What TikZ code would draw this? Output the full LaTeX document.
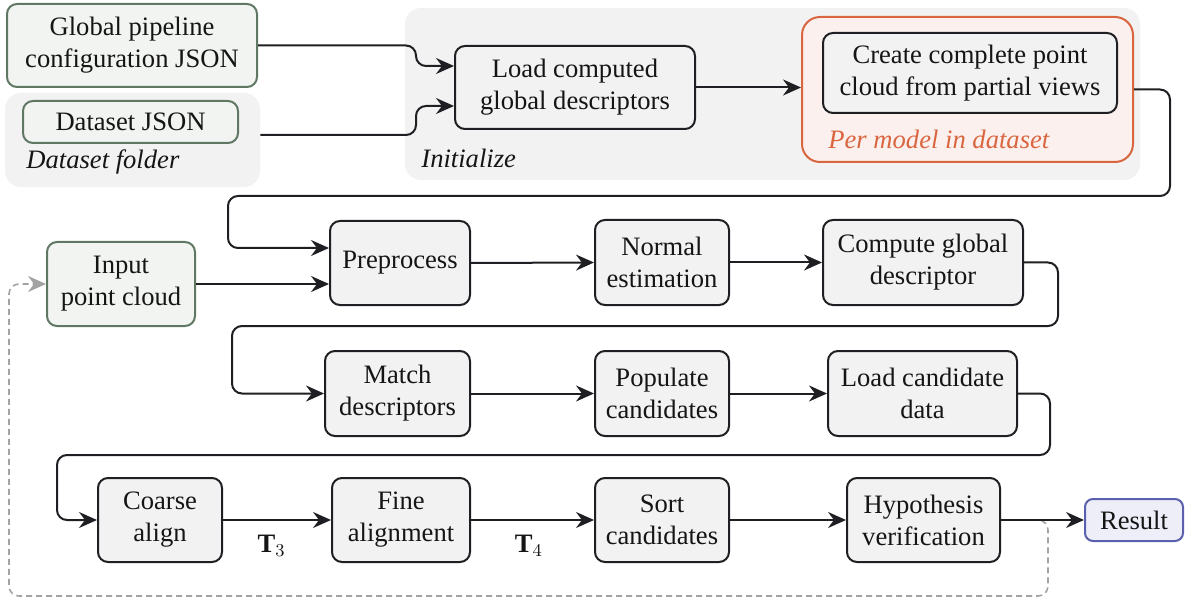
\documentclass[tikz,border=0pt]{standalone}
\usepackage{fontspec}
\setmainfont{Liberation Serif}
\usetikzlibrary{arrows.meta,calc}

\definecolor{boxfill}{HTML}{F2F2F2}
\definecolor{boxline}{HTML}{1F1F23}
\definecolor{greenfill}{HTML}{F1F4F0}
\definecolor{greenline}{HTML}{5F7763}
\definecolor{groupfill}{HTML}{F2F2F2}
\definecolor{orangeline}{HTML}{D9663F}
\definecolor{orangefill}{HTML}{FBF0ED}
\definecolor{resfill}{HTML}{EEEEF9}
\definecolor{resline}{HTML}{5A5FAE}
\definecolor{txt}{HTML}{151515}
\definecolor{loopgray}{HTML}{A3A3A3}

\tikzset{
  base/.style={align=center, inner sep=0pt, text=txt,
    font=\fontsize{13.3}{16}\selectfont},
  stepbox/.style={base, draw=boxline, fill=boxfill, line width=1pt, rounded corners=5pt},
  greenbox/.style={base, draw=greenline, fill=greenfill, line width=1pt, rounded corners=5pt},
  groupbox/.style={base, fill=groupfill, rounded corners=8pt},
  orangebox/.style={base, draw=orangeline, fill=orangefill, line width=1pt, rounded corners=9pt},
  resbox/.style={base, draw=resline, fill=resfill, line width=1pt, rounded corners=4pt},
  grouplabel/.style={base, anchor=west, font=\fontsize{13.3}{16}\selectfont\itshape},
  wh/.style 2 args={minimum width=#1*0.5pt, minimum height=#2*0.5pt},
  flow/.style={line width=1pt, draw=boxline, rounded corners=5pt,
    -{Stealth[length=9pt,width=8pt,inset=3pt]}},
  loop/.style={line width=0.8pt, draw=loopgray, dash pattern=on 3pt off 2pt,
    rounded corners=5pt, -{Stealth[length=9pt,width=8pt,inset=3pt,fill=loopgray]}},
  tlabel/.style={base},
}

\begin{document}
\begin{tikzpicture}[x=0.5pt,y=-0.5pt]
\useasboundingbox (0,0) rectangle (1185,599);

% --- initialization stage ---
\node[groupbox, wh={255}{94}] (dsgroup) at (132.5,140) {};
\node[grouplabel] (dslabel) at (26,162) {Dataset folder};
\node[greenbox, wh={250}{83}] (gpc) at (132,45.5) {Global pipeline\\configuration JSON};
\node[greenbox, wh={215}{42}] (dsjson) at (130.5,122) {Dataset JSON};

\node[groupbox, wh={735}{172}] (init) at (772.5,94) {};
\node[grouplabel] (initlabel) at (421,158) {Initialize};
\node[stepbox, wh={240}{83}] (load) at (575,87.5) {Load computed\\global descriptors};

\node[orangebox, wh={331}{145}] (permodel) at (967.5,89.5) {};
\node[grouplabel, text=orangeline] (pmlabel) at (828,139) {Per model in dataset};
\node[stepbox, wh={294}{80}] (create) at (970,73) {Create complete point\\cloud from partial views};

% --- descriptor stage ---
\node[greenbox, wh={148}{84}] (input) at (121,284) {Input\\point cloud};
\node[stepbox, wh={140}{84}] (prep) at (400,263) {Preprocess};
\node[stepbox, wh={134}{85}] (normal) at (662,262.5) {Normal\\estimation};
\node[stepbox, wh={200}{85}] (compute) at (923,262.5) {Compute global\\descriptor};

% --- candidate stage ---
\node[stepbox, wh={145}{85}] (match) at (397.5,393.5) {Match\\descriptors};
\node[stepbox, wh={134}{85}] (populate) at (662,393.5) {Populate\\candidates};
\node[stepbox, wh={189}{85}] (loadcand) at (922.5,393.5) {Load candidate\\data};

% --- alignment stage ---
\node[stepbox, wh={124}{84}] (coarse) at (160,520) {Coarse\\align};
\node[stepbox, wh={138}{84}] (fine) at (401,520) {Fine\\alignment};
\node[stepbox, wh={134}{84}] (sort) at (662,520) {Sort\\candidates};
\node[stepbox, wh={153}{84}] (hyp) at (923.5,520) {Hypothesis\\verification};
\node[resbox, wh={98}{42}] (result) at (1134,520) {Result};

% feedback loop to the input (drawn first, so the solid arrow lies on top)
\draw[loop] (hyp.east) -- (1048,520) -- (1048,596) -- (9,596) -- (9,284) -- (input.west);

% --- connectors ---
\draw[flow] (gpc.east) -- (416,45.5) -- (416,66) -- ($(load.west)+(0,-21.5)$);
\draw[flow] ($(dsgroup.east)+(0,-5)$) -- (416,135) -- (416,106) -- ($(load.west)+(0,18.5)$);
\draw[flow] (load.east) -- (load.east -| permodel.west);
\draw[flow] (permodel.east) -- (1170,89.5) -- (1170,196) -- (228,196) -- (228,248)
  -- ($(prep.west)+(0,-15)$);
\draw[flow] (input.east) -- (input.east -| prep.west);
\draw[flow] (prep.east) -- (normal.west);
\draw[flow] (normal.east) -- (compute.west);
\draw[flow] (compute.east) -- (1058,262.5) -- (1058,326) -- (232,326) -- (232,393.5)
  -- (match.west);
\draw[flow] (match.east) -- (populate.west);
\draw[flow] (populate.east) -- (loadcand.west);
\draw[flow] (loadcand.east) -- (1050,393.5) -- (1050,455) -- (57,455) -- (57,520)
  -- (coarse.west);
\draw[flow] (coarse.east) -- node[tlabel, pos=0.45, below=7pt] (t3) {$\mathbf{T}_3$} (fine.west);
\draw[flow] (fine.east) -- node[tlabel, pos=0.47, below=7pt] (t4) {$\mathbf{T}_4$} (sort.west);
\draw[flow] (sort.east) -- (hyp.west);
\draw[flow] (hyp.east) -- (result.west);
\end{tikzpicture}
\end{document}
